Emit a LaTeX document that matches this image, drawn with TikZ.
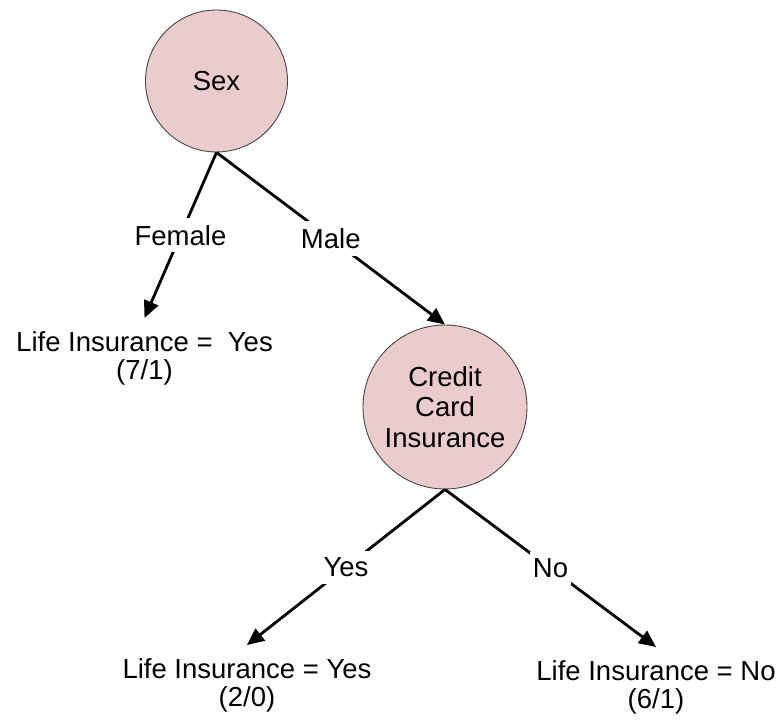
\documentclass[tikz,border=0pt]{standalone}
\usepackage{fontspec}
\setmainfont{Liberation Sans}
\usetikzlibrary{arrows.meta}
\definecolor{splitfill}{RGB}{235,204,204}
\definecolor{splitline}{RGB}{70,70,70}
\begin{document}
\begin{tikzpicture}[x=1bp,y=-1bp,
  split/.style={circle,draw=splitline,line width=0.9bp,fill=splitfill,
    inner sep=0pt,align=center,font=\fontsize{27.6}{30.5}\selectfont},
  leaf/.style={align=center,anchor=north,inner sep=0pt,outer sep=14bp,
    font=\fontsize{27.6}{27.5}\selectfont},
  branch/.style={line width=2.8bp,-{Triangle[length=17bp,width=15bp]}},
  branchlabel/.style={fill=white,inner xsep=3bp,inner ysep=7bp,
    font=\fontsize{27.6}{30}\selectfont}]
  \useasboundingbox[fill=white] (0,0) rectangle (783,721);

  % decision nodes
  \node[split,minimum size=142bp] (sex) at (216.5,81) {Sex};
  \node[split,minimum size=164bp] (cci) at (445,407) {Credit\\Card\\Insurance};

  % leaves
  \node[leaf] (lifeF) at (144.5,318) {Life Insurance =\ \ Yes\\(7/1)};
  \node[leaf] (lifeY) at (247,645) {Life Insurance = Yes\\(2/0)};
  \node[leaf] (lifeN) at (656,647) {Life Insurance = No\\(6/1)};

  % branches
  \draw[branch] (sex.south) -- node[branchlabel] {Female} (lifeF.north);
  \draw[branch] (sex.south) -- node[branchlabel] {Male} (cci.north);
  \draw[branch] (cci.south) -- node[branchlabel] {Yes} (lifeY.north);
  \draw[branch] (cci.south) -- node[branchlabel] {No} (lifeN.north);
\end{tikzpicture}
\end{document}
